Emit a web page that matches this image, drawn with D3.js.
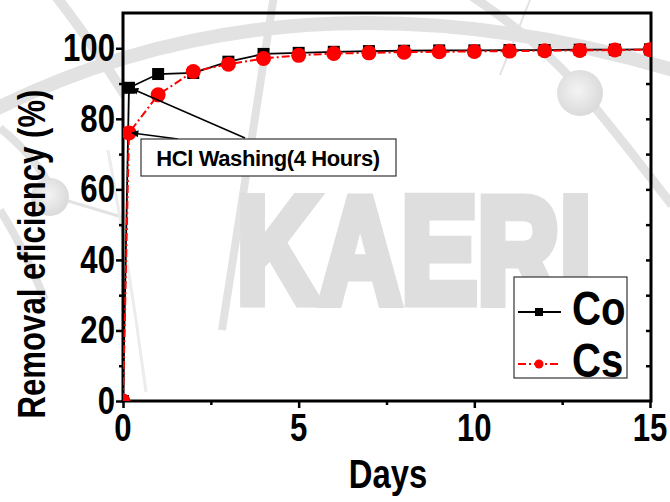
<!DOCTYPE html>
<html>
<head>
<meta charset="utf-8">
<script src="https://cdn.jsdelivr.net/npm/d3@7"></script>
<style>
  html, body { margin: 0; padding: 0; background: #fff; }
  svg { display: block; }
  text { font-family: "Liberation Sans", Arial, Helvetica, sans-serif; }
</style>
</head>
<body>
<script>
// Removal efficiency of Co and Cs over time (HCl washing, 4 hours, then days)
const days = [0, 0.17, 1, 2, 3, 4, 5, 6, 7, 8, 9, 10, 11, 12, 13, 14, 15];
const coValues = [0, 88.8, 92.7, 93.0, 96.2, 98.4, 98.7, 99.0, 99.2, 99.3, 99.4, 99.4, 99.5, 99.5, 99.6, 99.6, 99.7];
const csValues = [0, 76.0, 86.8, 93.4, 95.5, 97.1, 98.0, 98.5, 98.7, 98.9, 99.0, 99.1, 99.2, 99.3, 99.4, 99.5, 99.6];
const seriesNames = ["Co", "Cs"];
const xTicks = [0, 5, 10, 15];
const xMinorTicks = [2.5, 7.5, 12.5];
const yTicks = [0, 20, 40, 60, 80, 100];
const yMinorTicks = [10, 30, 50, 70, 90];
const yRightTicks = [10, 20, 30, 40, 50, 60, 70, 80, 90, 100];
const annotationText = "HCl Washing(4 Hours)";
const xTitle = "Days";
const yTitle = "Removal eficiency (%)";
const watermark = "KAERI";

const W = 670, H = 502;
const svg = d3.select("body").append("svg").attr("width", W).attr("height", H);

const x = d3.scaleLinear().domain([0, 15]).range([123, 650]);
const y = d3.scaleLinear().domain([0, 110]).range([401, 13]);

const defs = svg.append("defs");
const grad = defs.append("radialGradient").attr("id", "ball").attr("cx", "45%").attr("cy", "45%").attr("r", "55%");
grad.append("stop").attr("offset", "0%").attr("stop-color", "#f4f4f4");
grad.append("stop").attr("offset", "100%").attr("stop-color", "#dadada");
defs.append("clipPath").attr("id", "plotClip")
  .append("rect").attr("x", x(0)).attr("y", y(110)).attr("width", x(15) - x(0) + 1).attr("height", y(0) - y(110));
defs.append("marker").attr("id", "arrow").attr("viewBox", "0 0 10 10")
  .attr("refX", 9).attr("refY", 5).attr("markerWidth", 9).attr("markerHeight", 7)
  .attr("markerUnits", "userSpaceOnUse").attr("orient", "auto")
  .append("path").attr("d", "M0,0 L10,5 L0,10 Z").attr("fill", "#000");

// Background watermark: orbits, nuclei and lettering
const wm = svg.append("g").attr("class", "watermark");
const orbit = "#e2e2e2";
wm.append("path").attr("d", "M-10,112 Q300,-45 690,75").attr("fill", "none").attr("stroke", orbit).attr("stroke-width", 14);
wm.append("path").attr("d", "M55,-5 Q90,40 125,95").attr("fill", "none").attr("stroke", orbit).attr("stroke-width", 10);
wm.append("path").attr("d", "M274,-5 L222,330").attr("fill", "none").attr("stroke", orbit).attr("stroke-width", 8);
wm.append("path").attr("d", "M530,0 L500,75").attr("fill", "none").attr("stroke", orbit).attr("stroke-width", 2);
wm.append("path").attr("d", "M470,-5 Q545,45 585,95 Q630,150 672,205").attr("fill", "none").attr("stroke", orbit).attr("stroke-width", 9);
wm.append("path").attr("d", "M0,128 Q40,160 55,197").attr("fill", "none").attr("stroke", orbit).attr("stroke-width", 8);
wm.append("path").attr("d", "M55,197 L125,218").attr("fill", "none").attr("stroke", orbit).attr("stroke-width", 3);
wm.append("path").attr("d", "M108,150 Q130,270 146,392").attr("fill", "none").attr("stroke", "#ececec").attr("stroke-width", 3);
wm.append("path").attr("d", "M0,210 Q25,250 45,300").attr("fill", "none").attr("stroke", orbit).attr("stroke-width", 8);
wm.append("circle").attr("cx", 50).attr("cy", 197).attr("r", 19).attr("fill", "url(#ball)");
wm.append("circle").attr("cx", 580).attr("cy", 93).attr("r", 23).attr("fill", "url(#ball)");
wm.append("text").attr("transform", "translate(414,302) scale(0.76,1)")
  .attr("text-anchor", "middle").attr("font-weight", "bold").attr("font-size", 150)
  .attr("fill", "#dedede").attr("stroke", "#dedede").attr("stroke-width", 11)
  .attr("stroke-linejoin", "miter").text(watermark);

// Axes
const axes = svg.append("g");
const fmt = d3.format("d");

axes.append("g").attr("transform", `translate(${x(0)},0)`)
  .call(d3.axisLeft(y).tickValues(yTicks).tickSize(7).tickFormat(""));
axes.append("g").attr("transform", `translate(${x(0)},0)`)
  .call(d3.axisLeft(y).tickValues(yMinorTicks).tickSize(4).tickFormat(""));
axes.append("g").attr("transform", `translate(${x(15)},0)`)
  .call(d3.axisLeft(y).tickValues(yRightTicks).tickSize(4).tickFormat(""));
axes.append("g").attr("transform", `translate(0,${y(0)})`)
  .call(d3.axisBottom(x).tickValues(xTicks).tickSize(7).tickFormat(""));
axes.append("g").attr("transform", `translate(0,${y(0)})`)
  .call(d3.axisBottom(x).tickValues(xMinorTicks).tickSize(4).tickFormat(""));
axes.selectAll(".domain").remove();
axes.selectAll(".tick line").attr("stroke", "#000").attr("stroke-width", 2.5);

// Frame
axes.append("rect").attr("x", x(0)).attr("y", y(110)).attr("width", x(15) - x(0) + 1)
  .attr("height", y(0) - y(110)).attr("fill", "none").attr("stroke", "#000").attr("stroke-width", 3);

// Tick labels (condensed bold)
axes.append("g").selectAll("text").data(yTicks).join("text")
  .attr("transform", d => `translate(${x(0) - 8},${y(d) + 13}) scale(0.82,1)`)
  .attr("text-anchor", "end").attr("font-weight", "bold").attr("font-size", 38).text(fmt);
axes.append("g").selectAll("text").data(xTicks).join("text")
  .attr("transform", d => `translate(${x(d)},${y(0) + 40}) scale(0.82,1)`)
  .attr("text-anchor", "middle").attr("font-weight", "bold").attr("font-size", 38).text(fmt);

// Axis titles
svg.append("text").attr("transform", "translate(388,488) scale(0.82,1)")
  .attr("text-anchor", "middle").attr("font-weight", "bold").attr("font-size", 40).text(xTitle);
svg.append("text").attr("transform", "translate(45,254) rotate(-90) scale(0.82,1)")
  .attr("text-anchor", "middle").attr("font-weight", "bold").attr("font-size", 38).text(yTitle);

// Data series
const coData = days.map((d, i) => [d, coValues[i]]);
const csData = days.map((d, i) => [d, csValues[i]]);
const line = d3.line().x(d => x(d[0])).y(d => y(d[1]));

const plot = svg.append("g").attr("clip-path", "url(#plotClip)");
plot.append("path").datum(coData).attr("d", line).attr("fill", "none")
  .attr("stroke", "#000").attr("stroke-width", 1.8);
plot.append("g").selectAll("rect").data(coData).join("rect")
  .attr("x", d => x(d[0]) - 6).attr("y", d => y(d[1]) - 6)
  .attr("width", 12).attr("height", 12).attr("fill", "#000");
plot.append("path").datum(csData).attr("d", line).attr("fill", "none")
  .attr("stroke", "#ff0000").attr("stroke-width", 2).attr("stroke-dasharray", "8,3,2,3");
plot.append("g").selectAll("circle").data(csData).join("circle")
  .attr("cx", d => x(d[0])).attr("cy", d => y(d[1])).attr("r", 7.5).attr("fill", "#ff0000");

// Annotation with arrows to the 4-hour points
const ann = svg.append("g");
ann.append("line").attr("x1", 245).attr("y1", 138).attr("x2", x(days[1]) + 3).attr("y2", y(coValues[1]) + 1)
  .attr("stroke", "#000").attr("stroke-width", 1.5).attr("marker-end", "url(#arrow)");
ann.append("line").attr("x1", 178).attr("y1", 139).attr("x2", x(days[1]) + 3).attr("y2", y(csValues[1]))
  .attr("stroke", "#000").attr("stroke-width", 1.5).attr("marker-end", "url(#arrow)");
ann.append("rect").attr("x", 141).attr("y", 139).attr("width", 255).attr("height", 37)
  .attr("fill", "#fff").attr("stroke", "#333").attr("stroke-width", 1.2);
ann.append("text").attr("x", 268).attr("y", 166).attr("text-anchor", "middle")
  .attr("font-size", 22).attr("font-weight", "bold").attr("letter-spacing", -0.4).text(annotationText);

// Legend
const leg = svg.append("g");
leg.append("rect").attr("x", 514).attr("y", 277).attr("width", 113).attr("height", 101)
  .attr("fill", "#fff").attr("stroke", "#333").attr("stroke-width", 1.2);
const legRows = [
  { name: seriesNames[0], y: 312, color: "#000", dash: null, shape: "square" },
  { name: seriesNames[1], y: 364, color: "#ff0000", dash: "8,3,2,3", shape: "circle" }
];
legRows.forEach(r => {
  leg.append("line").attr("x1", 518).attr("x2", 561).attr("y1", r.y).attr("y2", r.y)
    .attr("stroke", r.color).attr("stroke-width", 2).attr("stroke-dasharray", r.dash);
  if (r.shape === "square") {
    leg.append("rect").attr("x", 535).attr("y", r.y - 4).attr("width", 8).attr("height", 8).attr("fill", r.color);
  } else {
    leg.append("circle").attr("cx", 539).attr("cy", r.y).attr("r", 4.5).attr("fill", r.color);
  }
  leg.append("text").attr("transform", `translate(572,${r.y + 13}) scale(0.82,1)`)
    .attr("font-weight", "bold").attr("font-size", 49).text(r.name);
});
</script>
</body>
</html>
